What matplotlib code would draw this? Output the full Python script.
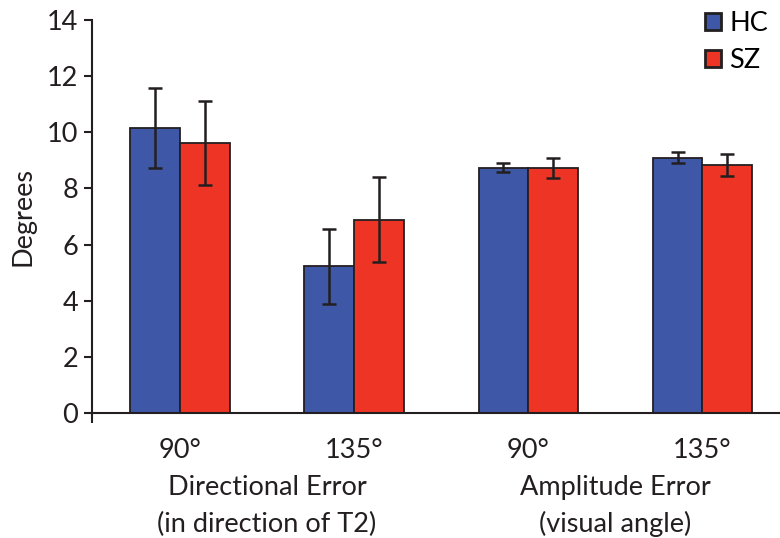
import numpy as np
import matplotlib
matplotlib.use('Agg')
import matplotlib.pyplot as plt

# Values
conditions = ['90°', '135°', '90°', '135°']
groups = ['Directional Error\n(in direction of T2)', 'Amplitude Error\n(visual angle)']
hc_mean = [10.15, 5.22, 8.74, 9.10]
hc_err = [1.41, 1.33, 0.16, 0.18]
sz_mean = [9.62, 6.89, 8.74, 8.83]
sz_err = [1.50, 1.50, 0.36, 0.39]

BLUE = '#3E58A7'
RED = '#EE3424'
INK = '#231F20'

plt.rcParams['font.family'] = ['Lato', 'DejaVu Sans']

fig = plt.figure(figsize=(7.8, 5.38), dpi=100)
ax = fig.add_axes([92 / 780, 1 - 413 / 538, (779 - 92) / 780, (413 - 20) / 538])

x = np.arange(len(conditions))
w = 0.285
ekw = dict(ecolor=INK, elinewidth=1.8, capsize=5, capthick=1.8)
ax.bar(x - w / 2, hc_mean, w, yerr=hc_err, color=BLUE, edgecolor=INK,
       linewidth=1.3, label='HC', error_kw=ekw, zorder=2)
ax.bar(x + w / 2, sz_mean, w, yerr=sz_err, color=RED, edgecolor=INK,
       linewidth=1.3, label='SZ', error_kw=ekw, zorder=2)

ax.set_xlim(-0.505, 3.44)
ax.set_ylim(0, 14)
ax.set_yticks(np.arange(0, 15, 2))

for s in ['top', 'right']:
    ax.spines[s].set_visible(False)
for s in ['left', 'bottom']:
    ax.spines[s].set_color(INK)
    ax.spines[s].set_linewidth(1.5)

ax.tick_params(axis='y', direction='out', length=6, width=1.5, color=INK,
               labelsize=19.5, pad=4, labelcolor=INK)
ax.set_xticks(x)
ax.set_xticklabels(conditions)
ax.tick_params(axis='x', length=0, labelsize=19.5, pad=18, labelcolor=INK)
ax.set_xticks([-0.505], minor=True)
ax.tick_params(axis='x', which='minor', direction='out', length=7, width=1.5, color=INK)

ax.set_ylabel('Degrees', fontsize=19.5, color=INK, labelpad=8)

# group captions beneath the tick labels
for i, g in enumerate(groups):
    ax.text(2 * i + 0.5, -0.2366, g, transform=ax.get_xaxis_transform(),
            ha='center', va='center', fontsize=19.5, color=INK, linespacing=1.55)

leg = ax.legend(loc='upper right', bbox_to_anchor=(1.0, 1.05), frameon=False,
                fontsize=19.5, handlelength=0.6, handleheight=0.6,
                handletextpad=0.3, labelspacing=0.45, borderaxespad=0)
for h in leg.legend_handles:
    h.set_linewidth(2)

fig.savefig('out.png', dpi=100)
